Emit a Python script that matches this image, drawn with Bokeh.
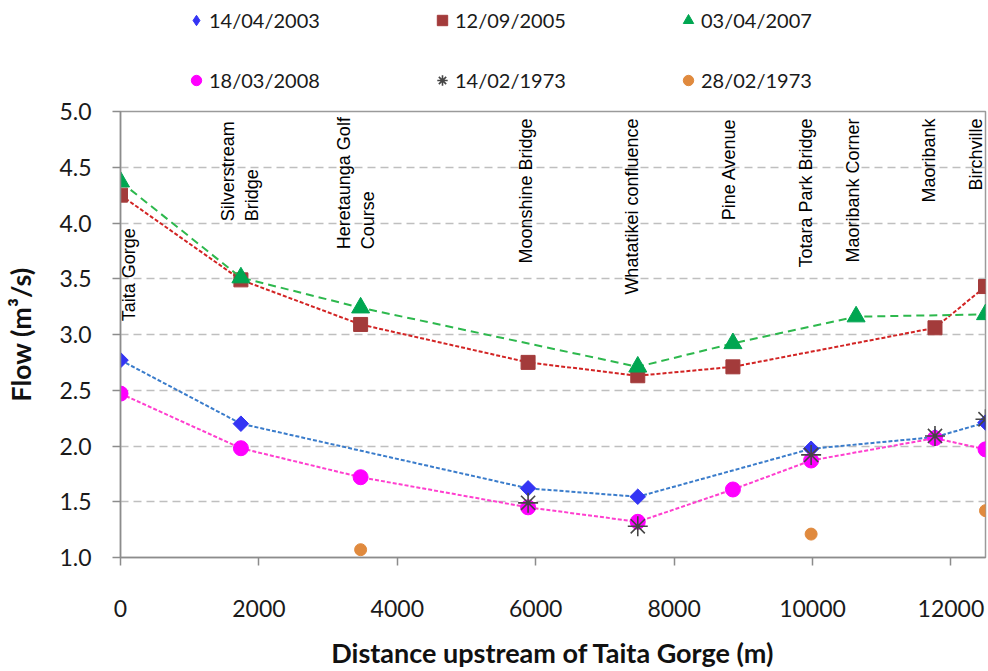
import math
from bokeh.plotting import figure
from bokeh.layouts import column
from bokeh.models import (ColumnDataSource, Legend, LegendItem, FixedTicker,
                          NumeralTickFormatter, Range1d)
from bokeh.core.properties import value
from bokeh.embed import file_html
from bokeh.resources import INLINE

# ---------------- data ----------------
sites = ["Taita Gorge", "Silverstream\nBridge", "Heretaunga Golf\nCourse",
         "Moonshine Bridge", "Whatatikei confluence", "Pine Avenue",
         "Totara Park Bridge", "Maoribank Corner", "Maoribank", "Birchville"]
site_x = [0, 1740, 3470, 5890, 7475, 8850, 9980, 10630, 11770, 12500]

dates = ["14/04/2003", "12/09/2005", "03/04/2007",
         "18/03/2008", "14/02/1973", "28/02/1973"]

flow_2003 = [2.77, 2.20, None, 1.62, 1.545, None, 1.975, None, 2.08, 2.21]
flow_2005 = [4.25, 3.49, 3.09, 2.75, 2.63, 2.71, None, None, 3.06, 3.43]
flow_2007 = [4.37, 3.51, 3.24, None, 2.71, 2.92, None, 3.16, None, 3.18]
flow_2008 = [2.47, 1.98, 1.72, 1.45, 1.32, 1.61, 1.87, None, 2.07, 1.97]
flow_1973a = [None, None, None, 1.49, 1.28, None, 1.92, None, 2.09, 2.24]
flow_1973b = [None, None, 1.07, None, None, None, 1.21, None, None, 1.42]

x_ticks = [0, 2000, 4000, 6000, 8000, 10000, 12000]
y_ticks = [1.0, 1.5, 2.0, 2.5, 3.0, 3.5, 4.0, 4.5, 5.0]

# ---------------- styles ----------------
series = [
    dict(vals=flow_2003, marker="square", angle=math.pi / 4, legend_marker="diamond", size=11,
         fill="#3434F4", line="#3A7CCB", dash="4 2", draw_line=True),
    dict(vals=flow_2005, marker="square", angle=0, legend_marker="square", size=14,
         fill="#A33B3B", line="#D22424", dash="4 2", draw_line=True),
    dict(vals=flow_2007, marker="triangle", angle=0, legend_marker="triangle", size=18,
         fill="#00A651", line="#2DB84D", dash="8 5", draw_line=True),
    dict(vals=flow_2008, marker="circle", angle=0, legend_marker="circle", size=15,
         fill="#FF00FF", line="#FF3FCF", dash="4 2", draw_line=True),
    dict(vals=flow_1973a, marker="asterisk", angle=0, legend_marker="asterisk", size=20,
         fill="#454545", line=None, dash=None, draw_line=False),
    dict(vals=flow_1973b, marker="circle", angle=0, legend_marker="circle", size=12,
         fill="#E08A3E", line=None, dash=None, draw_line=False),
]


def series_points(s):
    xs = [x for x, v in zip(site_x, s["vals"]) if v is not None]
    ys = [v for v in s["vals"] if v is not None]
    return xs, ys


def add_markers(fig, s, xs, ys, marker, angle):
    src = ColumnDataSource(dict(x=xs, y=ys))
    if marker == "asterisk":
        return fig.scatter("x", "y", source=src, marker="asterisk", size=s["size"],
                           line_color=s["fill"], line_width=1.6, fill_color=None)
    return fig.scatter("x", "y", source=src, marker=marker, size=s["size"], angle=angle,
                       fill_color=s["fill"], line_color=s["fill"], line_width=1)


# ---------------- main chart ----------------
p = figure(width=988, height=576,
           x_range=Range1d(0, 12500), y_range=Range1d(1.0, 5.0),
           output_backend="svg", toolbar_location=None,
           min_border_left=120, min_border_right=3,
           min_border_top=16, min_border_bottom=113)
p.background_fill_color = "white"
p.border_fill_color = "white"
p.outline_line_color = "#9a9a9a"
p.outline_line_width = 1.5

p.xgrid.grid_line_color = None
p.ygrid.grid_line_color = "#BFBFBF"
p.ygrid.grid_line_width = 1.5
p.ygrid.grid_line_dash = "8 5"

for ax in (p.xaxis[0], p.yaxis[0]):
    ax.axis_line_color = "#8c8c8c"
    ax.axis_line_width = 1.5
    ax.major_tick_line_color = "#8c8c8c"
    ax.major_tick_line_width = 1.5
    ax.major_tick_in = 0
    ax.major_tick_out = 8
    ax.minor_tick_line_color = None
    ax.major_label_text_font = "Lato"
    ax.major_label_text_font_size = "23px"
    ax.major_label_text_color = "#1a1a1a"
    ax.axis_label_text_font = "Lato"
    ax.axis_label_text_font_size = "27px"
    ax.axis_label_text_font_style = "bold"
    ax.axis_label_text_color = "#111111"

p.xaxis.ticker = FixedTicker(ticks=x_ticks)
p.xaxis.formatter = NumeralTickFormatter(format="0")
p.xaxis.major_label_standoff = 34
p.xaxis.axis_label = "Distance upstream of Taita Gorge (m)"
p.xaxis.axis_label_standoff = 16

p.yaxis.ticker = FixedTicker(ticks=y_ticks)
p.yaxis.formatter = NumeralTickFormatter(format="0.0")
p.yaxis.major_label_standoff = 21
p.yaxis.axis_label = "Flow (m³/s)"
p.yaxis.axis_label_standoff = 19

for s in series:
    xs, ys = series_points(s)
    if s["draw_line"]:
        p.line(xs, ys, line_color=s["line"], line_width=2, line_dash=s["dash"])
    add_markers(p, s, xs, ys, s["marker"], s["angle"])

# site labels (rotated)
top_y = 4.937
single = [i for i, t in enumerate(sites) if "\n" not in t]
double = [i for i, t in enumerate(sites) if "\n" in t]
label_dx = {0: 8, 1: -1, 2: -5, 3: -2, 4: -6, 5: -4, 6: -5, 7: -3, 8: -6, 9: -10}
label_top = {0: 3.953}
label_start = {1: 4.016, 2: 3.765}

src_single = ColumnDataSource(dict(
    x=[site_x[i] for i in single],
    y=[label_top.get(i, top_y) for i in single],
    t=[sites[i] for i in single],
    dx=[label_dx[i] for i in single]))
p.text("x", "y", text="t", source=src_single, angle=math.pi / 2,
       text_align="right", text_baseline="middle", x_offset="dx",
       text_font=value("Liberation Sans"), text_font_size="18px",
       text_color="#000000")

src_double = ColumnDataSource(dict(
    x=[site_x[i] for i in double],
    y=[label_start[i] for i in double],
    t=[sites[i] for i in double],
    dx=[label_dx[i] for i in double]))
p.text("x", "y", text="t", source=src_double, angle=math.pi / 2,
       text_align="left", text_baseline="middle", x_offset="dx",
       text_font=value("Liberation Sans"), text_font_size="18px",
       text_color="#000000", text_line_height=1.2)

# ---------------- legend strip above the chart ----------------
# same series, but in a strip whose ranges lie far from the data, so only the
# legend glyphs are visible there
pl = figure(width=988, height=95, x_range=Range1d(0, 1), y_range=Range1d(100, 101),
            x_axis_type=None, y_axis_type=None,
            output_backend="svg", toolbar_location=None,
            min_border_left=0, min_border_right=0, min_border_top=0, min_border_bottom=0)
pl.outline_line_color = None
pl.xgrid.grid_line_color = None
pl.ygrid.grid_line_color = None
pl.background_fill_color = "white"
pl.border_fill_color = "white"

legend_renderers = [add_markers(pl, s, *series_points(s), s["legend_marker"], 0) for s in series]


def make_legend(idx, loc):
    leg = Legend(items=[LegendItem(label=dates[i], renderers=[legend_renderers[i]]) for i in idx],
                 location=loc, orientation="horizontal")
    leg.background_fill_alpha = 0
    leg.border_line_alpha = 0
    leg.padding = 0
    leg.margin = 0
    leg.spacing = 0
    leg.glyph_width = 26
    leg.glyph_height = 30
    leg.label_height = 30
    leg.label_width = 220
    leg.label_standoff = 0
    leg.label_text_font = "Lato"
    leg.label_text_font_size = "20px"
    leg.label_text_color = "#1a1a1a"
    return leg

pl.add_layout(make_legend([0, 1, 2], (63, 60)))
pl.add_layout(make_legend([3, 4, 5], (63, 0)))

layout = column(pl, p, spacing=0)
open("out.html", "w").write(file_html(layout, INLINE))
